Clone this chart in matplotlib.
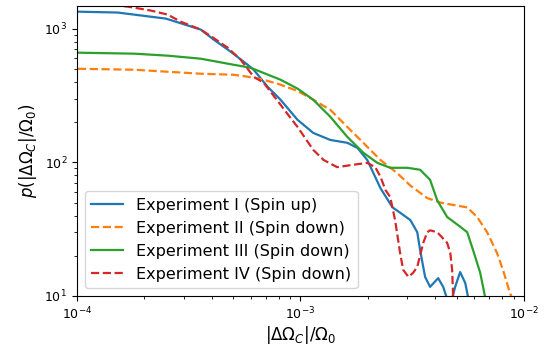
import matplotlib
matplotlib.use("Agg")
import matplotlib.pyplot as plt

# Experiment I (spin up)
x_exp1 = [1.01e-4, 1.52e-4, 2.50e-4, 3.58e-4, 4.09e-4, 4.87e-4, 5.80e-4, 6.17e-4,
          7.12e-4, 8.14e-4, 9.70e-4, 1.14e-3, 1.36e-3, 1.62e-3, 1.80e-3, 1.99e-3,
          2.12e-3, 2.28e-3, 2.58e-3, 2.79e-3, 3.10e-3, 3.33e-3, 3.43e-3, 3.61e-3,
          3.80e-3, 4.13e-3, 4.35e-3, 4.53e-3, 4.68e-3, 4.92e-3, 5.18e-3, 5.46e-3,
          5.62e-3, 5.75e-3]
y_exp1 = [1340, 1320, 1189, 984, 828, 673, 537, 493,
          368, 294, 208, 166, 147, 140, 128, 104,
          83, 64, 46, 42, 37, 30, 22, 13.9,
          11.7, 13.6, 11.7, 9.5, 8.5, 11.7, 15.1, 12.5,
          9.8, 8.5]

# Experiment II (spin down)
x_exp2 = [1.01e-4, 1.80e-4, 2.55e-4, 3.58e-4, 5.02e-4, 5.80e-4, 6.84e-4, 8.14e-4,
          9.70e-4, 1.14e-3, 1.36e-3, 1.62e-3, 1.91e-3, 2.28e-3, 2.71e-3, 3.10e-3,
          3.69e-3, 4.22e-3, 4.82e-3, 5.57e-3, 6.17e-3, 6.84e-3, 7.57e-3, 8.05e-3,
          8.66e-3, 9.0e-3]
y_exp2 = [501, 493, 476, 460, 452, 437, 415, 381,
          342, 294, 247, 184, 140, 104, 83, 67,
          54, 50, 48, 46, 39, 30, 21, 15.7,
          10.5, 9.0]

# Experiment III (spin down)
x_exp3 = [1.01e-4, 1.80e-4, 2.55e-4, 3.58e-4, 5.02e-4, 5.98e-4, 8.14e-4, 9.70e-4,
          1.14e-3, 1.36e-3, 1.62e-3, 1.91e-3, 2.21e-3, 2.52e-3, 3.01e-3, 3.43e-3,
          3.80e-3, 4.09e-3, 4.53e-3, 5.18e-3, 5.57e-3, 5.92e-3, 6.37e-3, 6.70e-3,
          6.90e-3]
y_exp3 = [661, 650, 628, 596, 537, 510, 415, 356,
          294, 219, 155, 118, 99, 91, 91, 88,
          74, 52, 39, 33, 30, 22, 14.9, 9.8,
          8.5]

# Experiment IV (spin down)
x_exp4 = [1.00e-4, 1.28e-4, 1.52e-4, 1.69e-4, 2.14e-4, 2.55e-4, 2.91e-4, 3.58e-4,
          4.09e-4, 4.72e-4, 5.40e-4, 6.17e-4, 6.84e-4, 8.14e-4, 9.02e-4, 9.70e-4,
          1.14e-3, 1.27e-3, 1.46e-3, 1.73e-3, 1.99e-3, 2.16e-3, 2.28e-3, 2.40e-3,
          2.52e-3, 2.65e-3, 2.79e-3, 2.88e-3, 3.04e-3, 3.19e-3, 3.33e-3, 3.54e-3,
          3.69e-3, 3.80e-3, 4.09e-3, 4.53e-3, 4.68e-3, 4.77e-3, 4.82e-3, 4.87e-3]
y_exp4 = [1520, 1510, 1486, 1462, 1366, 1273, 1128, 984,
          850, 721, 586, 437, 394, 270, 215, 184,
          124, 104, 92, 96, 99, 92, 78, 62,
          55, 37, 21, 15.7, 13.9, 14.9, 16.5, 24.9,
          30, 31, 30, 25, 21, 15.7, 9.8, 8.0]

fig = plt.figure(figsize=(5.51, 3.47), dpi=100)
ax = fig.add_axes([0.1397, 0.147, 0.8113, 0.836])

ax.plot(x_exp1, y_exp1, color="C0", lw=1.6, label="Experiment I (Spin up)")
ax.plot(x_exp2, y_exp2, color="C1", lw=1.6, ls="--", label="Experiment II (Spin down)")
ax.plot(x_exp3, y_exp3, color="C2", lw=1.6, label="Experiment III (Spin down)")
ax.plot(x_exp4, y_exp4, color="C3", lw=1.6, ls="--", label="Experiment IV (Spin down)")

ax.set_xscale("log")
ax.set_yscale("log")
ax.set_xlim(1e-4, 1e-2)
ax.set_ylim(10, 1480)
ax.tick_params(labelsize=9)

ax.set_xlabel(r"$|\Delta\Omega_C|/\Omega_0$", fontsize=12, labelpad=1)
ax.set_ylabel(r"$p(|\Delta\Omega_C|/\Omega_0)$", fontsize=12)
ax.legend(loc="lower left", fontsize=11.5)

fig.savefig("out.png", dpi=100)
